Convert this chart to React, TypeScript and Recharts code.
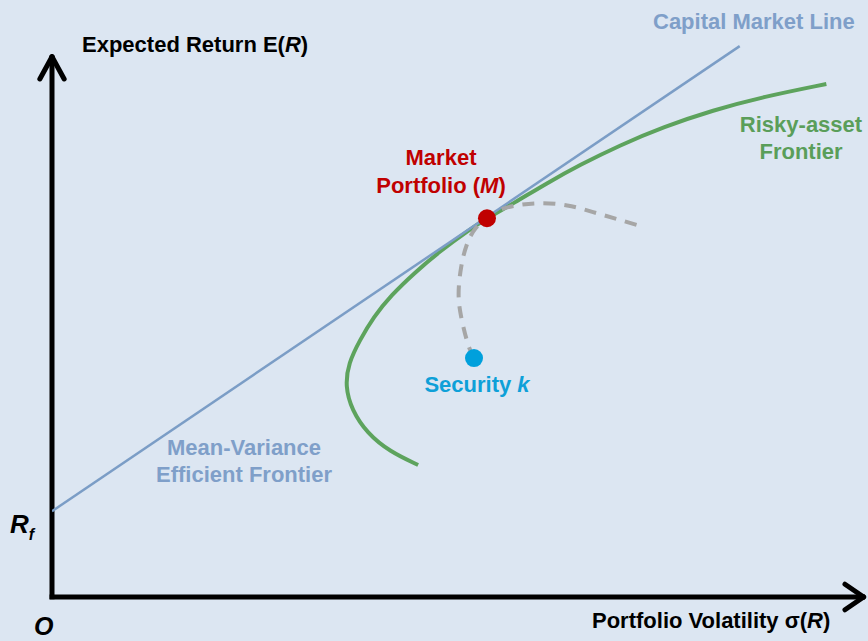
import React from 'react';
import { ComposedChart, XAxis, YAxis, Line, ReferenceLine, ReferenceDot } from 'recharts';

// volatility (x) / expected return (y), both on a 0-100 scale
const cmlSigma = [0, 84.9];
const cmlReturn = [15.4, 98.9];

const frontierSigma = [45.2, 41.7, 38.9, 37.0, 36.2, 36.6, 38.0, 39.7, 41.9, 44.6, 47.9, 51.6, 53.7, 57.0, 61.1, 65.2, 70.1, 75.5, 81.6, 87.8, 95.6];
const frontierReturn = [23.7, 26.1, 29.4, 33.6, 37.8, 42.0, 46.1, 50.3, 54.2, 58.0, 62.1, 66.0, 68.0, 70.7, 74.3, 77.6, 81.1, 84.4, 87.4, 89.8, 92.1];

const comboSigma = [52.1, 51.4, 50.6, 50.2, 50.5, 51.2, 52.3, 53.7, 55.3, 57.8, 60.6, 63.6, 66.8, 72.2];
const comboReturn = [42.9, 45.2, 49.7, 54.2, 59.1, 63.2, 66.2, 68.0, 69.5, 70.4, 70.7, 70.3, 69.1, 66.8];

const market = { x: 53.7, y: 68.0 };
const security = { x: 52.1, y: 42.9 };

const zip = (xs: number[], ys: number[]) => xs.map((x, i) => ({ x, y: ys[i] }));
const cml = zip(cmlSigma, cmlReturn);
const frontier = zip(frontierSigma, frontierReturn);
const combo = zip(comboSigma, comboReturn);

const font = "'Liberation Sans', Arial, sans-serif";

const lbl = (extra: React.CSSProperties): React.CSSProperties => ({
  position: 'absolute',
  fontFamily: font,
  fontWeight: 700,
  fontSize: 22,
  lineHeight: '22px',
  whiteSpace: 'nowrap',
  ...extra,
});

const axisProps = { stroke: '#000', strokeWidth: 5, ifOverflow: 'visible' as const, strokeLinecap: 'round' as const };

export default function App() {
  return (
    <div style={{ position: 'relative', width: 868, height: 641, background: '#dce6f2', overflow: 'hidden' }}>
      <style>{'body{margin:0}'}</style>
      <ComposedChart width={868} height={641} margin={{ top: 40, right: 6, left: 52, bottom: 44 }}>
        <XAxis type="number" dataKey="x" domain={[0, 100]} hide allowDataOverflow />
        <YAxis type="number" dataKey="y" domain={[0, 100]} hide allowDataOverflow />

        {/* axes with arrow heads */}
        <ReferenceLine segment={[{ x: 0, y: -0.4 }, { x: 0, y: 97.2 }]} {...axisProps} strokeLinecap="butt" />
        <ReferenceLine segment={[{ x: -1.5, y: 93.0 }, { x: 0, y: 97.0 }]} {...axisProps} />
        <ReferenceLine segment={[{ x: 1.5, y: 93.0 }, { x: 0, y: 97.0 }]} {...axisProps} />
        <ReferenceLine segment={[{ x: -0.3, y: 0 }, { x: 100.3, y: 0 }]} {...axisProps} strokeLinecap="butt" />
        <ReferenceLine segment={[{ x: 97.9, y: 2.3 }, { x: 100.2, y: 0 }]} {...axisProps} />
        <ReferenceLine segment={[{ x: 97.9, y: -2.3 }, { x: 100.2, y: 0 }]} {...axisProps} />

        <Line data={frontier} dataKey="y" type="basis" stroke="#5da35d" strokeWidth={4} dot={false} isAnimationActive={false} />
        <Line data={cml} dataKey="y" type="linear" stroke="#7b9dc6" strokeWidth={2.5} dot={false} isAnimationActive={false} />
        <Line data={combo} dataKey="y" type="natural" stroke="#a6a6a6" strokeWidth={4} strokeDasharray="12 9" dot={false} isAnimationActive={false} />

        <ReferenceDot x={market.x} y={market.y} r={9} fill="#c00000" stroke="none" />
        <ReferenceDot x={security.x} y={security.y} r={9} fill="#00a0dc" stroke="none" />
      </ComposedChart>

      <div style={lbl({ left: 82, top: 34, color: '#000' })}>
        Expected Return E(<i>R</i>)
      </div>
      <div style={lbl({ left: 592, top: 610, color: '#000' })}>
        Portfolio Volatility σ(<i>R</i>)
      </div>
      <div style={lbl({ left: 653, top: 11, color: '#7f9fc9' })}>Capital Market Line</div>
      <div style={lbl({ left: 701, width: 200, top: 111, lineHeight: '27px', textAlign: 'center', color: '#5a9e5a' })}>
        Risky-asset
        <br />
        Frontier
      </div>
      <div style={lbl({ left: 341, width: 200, top: 144, lineHeight: '28px', textAlign: 'center', color: '#c00000' })}>
        Market
        <br />
        Portfolio (<i>M</i>)
      </div>
      <div style={lbl({ left: 377, width: 200, top: 374, textAlign: 'center', color: '#0ea0d8' })}>
        Security <i>k</i>
      </div>
      <div style={lbl({ left: 144, width: 200, top: 434, lineHeight: '27px', textAlign: 'center', color: '#7f9fc9' })}>
        Mean-Variance
        <br />
        Efficient Frontier
      </div>
      <div style={lbl({ left: 10, top: 511, fontSize: 26, lineHeight: '26px', color: '#000' })}>
        <i>R</i>
        <i style={{ fontSize: 16, position: 'relative', top: 7 }}>f</i>
      </div>
      <div style={lbl({ left: 34, top: 614, fontSize: 25, lineHeight: '25px', color: '#000' })}>
        <i>O</i>
      </div>
    </div>
  );
}
